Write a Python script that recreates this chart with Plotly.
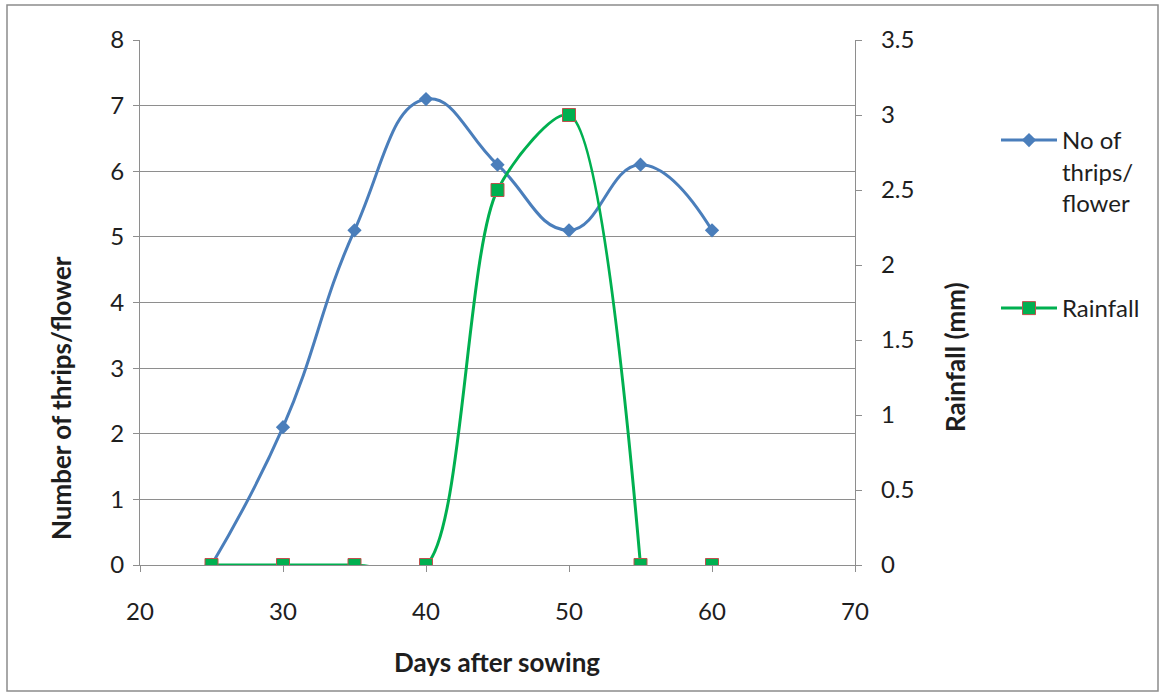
import plotly.graph_objects as go

days = [25, 30, 35, 40, 45, 50, 55, 60]
thrips = [0, 2.1, 5.1, 7.1, 6.1, 5.1, 6.1, 5.1]
rain_days = [25, 30, 35, 40, 45, 50, 55]
rainfall = [0, 0, 0, 0, 2.5, 3.0, 0]
rain_extra_days = [60]
rain_extra = [0]

x_ticks = [20, 30, 40, 50, 60, 70]

W, H = 1160, 694
L, R, T, B = 140, 305, 40, 129
pw, ph = W - L - R, H - T - B

def px_x(p):
    return (p - L) / pw

def px_y(p):
    return (H - B - p) / ph

FONT = "Lato"
blue = "#4A7EBB"
green = "#00B050"
mborder = "#C0504D"
grid = "#8E8E8E"
txt = "#1E1E1E"

fig = go.Figure()
fig.add_trace(go.Scatter(
    x=days, y=thrips, mode="lines+markers", name="No of<br>thrips/<br>flower",
    line=dict(color=blue, width=3, shape="spline", smoothing=1.3),
    marker=dict(symbol="diamond", size=11, color=blue),
    yaxis="y", legend="legend"))
fig.add_trace(go.Scatter(
    x=rain_days, y=rainfall, mode="lines+markers", name="Rainfall",
    line=dict(color=green, width=3, shape="spline", smoothing=0.8),
    marker=dict(symbol="square", size=13, color=green, line=dict(color=mborder, width=1)),
    yaxis="y2", legend="legend2"))
fig.add_trace(go.Scatter(
    x=rain_extra_days, y=rain_extra, mode="markers", showlegend=False,
    marker=dict(symbol="square", size=13, color=green, line=dict(color=mborder, width=1)),
    yaxis="y2"))

tickfont = dict(family=FONT, size=24, color=txt)
titlefont = dict(family=FONT, size=26, color=txt, weight="bold")
legfont = dict(family=FONT, size=24, color=txt)

fig.update_layout(
    width=W, height=H,
    margin=dict(l=L, r=R, t=T, b=B, autoexpand=False),
    paper_bgcolor="white", plot_bgcolor="white",
    font=dict(family=FONT),
    xaxis=dict(range=[20, 70], tickvals=x_ticks, showgrid=False,
               showline=True, linecolor=grid, linewidth=1.3, ticks="outside",
               ticklen=6, tickcolor=grid, tickfont=tickfont, zeroline=False,
               ticklabelstandoff=19),
    yaxis=dict(range=[0, 8], dtick=1, showgrid=True, gridcolor=grid, gridwidth=1.2,
               showline=True, linecolor=grid, linewidth=1.3, ticks="outside",
               ticklen=6, tickcolor=grid, tickfont=tickfont, zeroline=False,
               ticklabelstandoff=4),
    yaxis2=dict(range=[0, 3.5], dtick=0.5, overlaying="y", side="right", showgrid=False,
                showline=True, linecolor=grid, linewidth=1.3, ticks="outside",
                ticklen=6, tickcolor=grid, tickfont=tickfont, zeroline=False,
                ticklabelstandoff=14),
    legend=dict(x=px_x(996), y=px_y(118), xanchor="left", yanchor="top",
                font=legfont, valign="top", itemwidth=56, bgcolor="rgba(0,0,0,0)"),
    legend2=dict(x=px_x(996), y=px_y(286), xanchor="left", yanchor="top",
                 font=legfont, valign="top", itemwidth=56, bgcolor="rgba(0,0,0,0)"),
    showlegend=True,
)

fig.add_annotation(text="Days after sowing", xref="paper", yref="paper",
                   x=px_x(497), y=px_y(662), showarrow=False, font=titlefont,
                   xanchor="center", yanchor="middle")
fig.add_annotation(text="Number of thrips/flower", xref="paper", yref="paper",
                   x=px_x(61), y=px_y(398), showarrow=False, font=titlefont,
                   textangle=-90, xanchor="center", yanchor="middle")
fig.add_annotation(text="Rainfall (mm)", xref="paper", yref="paper",
                   x=px_x(955), y=px_y(357), showarrow=False, font=titlefont,
                   textangle=-90, xanchor="center", yanchor="middle")

fig.add_shape(type="rect", xref="paper", yref="paper",
              x0=px_x(7), x1=px_x(1158), y0=px_y(691), y1=px_y(5),
              line=dict(color="#8C8C8C", width=1.5), layer="below")

fig.write_html("out.html", config={"displayModeBar": False},
               post_script="document.body.style.margin='0';")
